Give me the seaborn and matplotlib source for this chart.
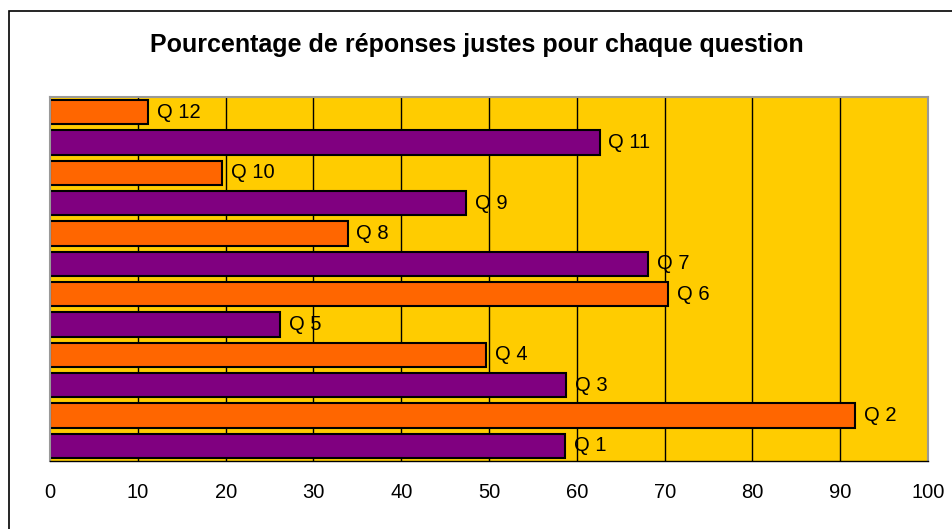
import seaborn as sns
import matplotlib.pyplot as plt
import pandas as pd
from matplotlib.patches import Rectangle

# Percentage of correct answers per question
questions = ['Q 1', 'Q 2', 'Q 3', 'Q 4', 'Q 5', 'Q 6',
             'Q 7', 'Q 8', 'Q 9', 'Q 10', 'Q 11', 'Q 12']
scores = [58.7, 91.7, 58.8, 49.7, 26.2, 70.4,
          68.1, 33.9, 47.4, 19.6, 62.6, 11.2]
bar_colors = ['#800080', '#FF6600'] * 6
x_ticks = [0, 10, 20, 30, 40, 50, 60, 70, 80, 90, 100]

df = pd.DataFrame({'question': questions, 'score': scores})
# Q 12 on top, Q 1 at bottom
order = questions[::-1]
palette = dict(zip(questions, bar_colors))

sns.set_style('white')
plt.rcParams['font.family'] = ['Liberation Sans', 'DejaVu Sans']
plt.rcParams['text.color'] = 'black'
plt.rcParams['xtick.color'] = 'black'

fig = plt.figure(figsize=(9.53, 5.29), dpi=100)
ax = fig.add_axes([0.0525, 0.1285, 0.9213, 0.688])
ax.set_facecolor('#FFCC00')

sns.barplot(data=df, x='score', y='question', hue='question', order=order,
            palette=palette, legend=False, width=0.8, saturation=1,
            edgecolor='black', linewidth=1.5, ax=ax)

ax.set_xlim(0, 100)
ax.set_xticks(x_ticks)
ax.set_xticklabels([str(t) for t in x_ticks], fontsize=14.5)
ax.set_yticks([])
ax.set_xlabel('')
ax.set_ylabel('')
ax.tick_params(axis='x', direction='out', length=5, width=1, color='black', pad=11)

for t in x_ticks[1:-1]:
    ax.axvline(t, color='black', linewidth=1, zorder=0.5)

for spine in ['top', 'right', 'left']:
    ax.spines[spine].set_color('#999999')
    ax.spines[spine].set_linewidth(1.5)
ax.spines['bottom'].set_color('black')
ax.spines['bottom'].set_linewidth(1)

for bar in ax.patches:
    w = bar.get_width()
    yc = bar.get_y() + bar.get_height() / 2
    ax.text(w + 1.0, yc, order[int(round(yc))],
            va='center', ha='left', fontsize=14.5, color='black')

fig.text(0.5, 0.915, 'Pourcentage de réponses justes pour chaque question',
         ha='center', va='center', fontsize=18, fontweight='bold', color='black')

# outer chart frame
fig.patches.append(Rectangle((9 / 953, -0.05), 1.1, 1.05 - 11 / 529,
                             transform=fig.transFigure, fill=False,
                             edgecolor='black', linewidth=1.2))

fig.savefig('out.png', dpi=100)
